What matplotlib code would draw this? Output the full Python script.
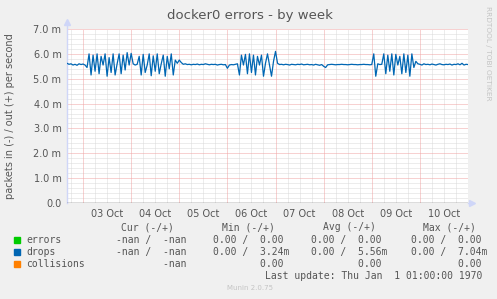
import matplotlib
matplotlib.use("Agg")
import matplotlib.pyplot as plt
from matplotlib.patches import Rectangle
import numpy as np

# drops (+ side), in milli-packets per second, one sample per hour from 02 Oct 16:00
drops_out = [
    5.62, 5.58, 5.60, 5.55, 5.58, 5.54, 5.60, 5.57, 5.59, 5.55,
    5.45, 6.00, 5.15, 5.95, 5.30, 6.00, 5.20, 5.90, 5.55, 6.00,
    5.10, 5.85, 5.25, 6.00, 5.15, 5.60, 6.00, 5.20, 5.95, 5.35,
    6.05, 5.55, 6.02, 5.60, 5.55, 5.58, 5.90, 5.15, 5.98, 5.25,
    5.55, 6.00, 5.12, 5.92, 5.30, 6.00, 5.20, 5.60, 5.95, 5.10,
    5.90, 5.40, 6.00, 5.15, 5.75,
    5.62, 5.75, 5.65, 5.58, 5.60, 5.57, 5.58, 5.56, 5.58, 5.57,
    5.59, 5.56, 5.58, 5.57, 5.60, 5.58, 5.56, 5.58, 5.57, 5.58,
    5.55, 5.57, 5.58, 5.56, 5.57, 5.42, 5.55, 5.57, 5.56, 5.58,
    5.60, 5.15, 5.95, 5.55, 5.98, 5.20, 6.00, 5.25, 5.95, 5.15,
    5.90, 5.55, 5.95, 5.10, 5.62, 6.00, 5.55, 5.10, 5.70, 6.10,
    5.62, 5.57, 5.58, 5.56, 5.58, 5.57, 5.55, 5.58, 5.57, 5.56,
    5.58, 5.57, 5.59, 5.56, 5.57, 5.58, 5.56, 5.57, 5.55, 5.58,
    5.56, 5.54, 5.57, 5.50, 5.45, 5.56, 5.57, 5.58, 5.57, 5.56,
    5.57, 5.57, 5.58, 5.57, 5.57, 5.56, 5.57, 5.58, 5.57, 5.57,
    5.56, 5.57, 5.57, 5.58, 5.57, 5.57, 5.56, 5.57,
    6.00, 5.10, 5.60, 5.57, 5.58, 6.00, 5.20, 5.95, 5.30, 6.00,
    5.15, 5.98, 5.55, 5.90, 5.20, 6.00, 5.25, 5.95, 5.10, 6.00,
    5.45, 5.70, 5.60,
    5.58, 5.55, 5.60, 5.57, 5.58, 5.56, 5.59, 5.57, 5.55, 5.58,
    5.60, 5.57, 5.56, 5.58, 5.57, 5.59, 5.55, 5.58, 5.57, 5.60,
    5.56, 5.62, 5.55, 5.58, 5.57,
]
hours = np.arange(len(drops_out))

day_labels = ["03 Oct", "04 Oct", "05 Oct", "06 Oct", "07 Oct", "08 Oct", "09 Oct", "10 Oct"]
y_ticks = [0, 1, 2, 3, 4, 5, 6, 7]
y_labels = ["0.0", "1.0 m", "2.0 m", "3.0 m", "4.0 m", "5.0 m", "6.0 m", "7.0 m"]

legend_names = ["errors", "drops", "collisions"]
legend_colors = ["#00CC00", "#0066B3", "#FF8000"]
cur_vals = ["-nan /  -nan", "-nan /  -nan", "        -nan"]
min_vals = ["0.00 /  0.00", "0.00 /  3.24m", "        0.00"]
avg_vals = ["0.00 /  0.00", "0.00 /  5.56m", "        0.00"]
max_vals = ["0.00 /  0.00", "0.00 /  7.04m", "        0.00"]
headers = ["Cur (-/+)", "Min (-/+)", "Avg (-/+)", "Max (-/+)"]

W, H = 497, 299
BG = "#F0F0F0"
TXT = "#555555"


def fx(px):
    return px / W


def fy(py):
    return 1 - py / H


fig = plt.figure(figsize=(W / 100, H / 100), dpi=100, facecolor=BG)
ax = fig.add_axes([fx(67), fy(203), fx(468) - fx(67), fy(29) - fy(203)])
ax.set_facecolor("white")

t_end = hours[-1]
midnights = np.arange(8, t_end + 1, 24)
noons = midnights[:-1] + 12
minor_x = [h for h in range(2, t_end + 1, 6) if h not in set(midnights)]
minor_y = [v / 5 for v in range(0, 36) if v % 5]

dot = (0, (1, 1))
ax.vlines(minor_x, 0, 7, colors="#DADADA", lw=0.72, linestyles=dot, zorder=1)
ax.hlines(minor_y, 0, t_end, colors="#DADADA", lw=0.72, linestyles=dot, zorder=1)
ax.vlines(midnights, 0, 7, colors="#F0A4A4", lw=0.72, linestyles=dot, zorder=2)
ax.hlines(y_ticks[1:], 0, t_end, colors="#F0A4A4", lw=0.72, linestyles=dot, zorder=2)

ax.plot(hours, drops_out, color="#0066B3", lw=0.9, zorder=4)
ax.axhline(0, color="#505050", lw=1.0, zorder=5)

ax.set_xlim(0, t_end)
ax.set_ylim(0, 7)
ax.set_xticks(noons, day_labels)
ax.set_yticks(y_ticks, y_labels)
ax.tick_params(length=0, labelsize=7, colors=TXT, pad=4)
for s in ("top", "right", "bottom", "left"):
    ax.spines[s].set_visible(False)

# axis lines with arrows
axc = "#CFD6F8"
ax.plot([0, 0], [0, 1.04], transform=ax.transAxes, color=axc, lw=1, clip_on=False, zorder=3)
ax.plot([0], [1.04], transform=ax.transAxes, marker="^", ms=4, color=axc, clip_on=False)
ax.plot([1.0, 1.01], [0, 0], transform=ax.transAxes, color=axc, lw=1, clip_on=False)
ax.plot([1.01], [0], transform=ax.transAxes, marker=">", ms=4, color=axc, clip_on=False)

fig.text(fx(250), fy(15), "docker0 errors - by week", ha="center", va="center",
         fontsize=9.5, color=TXT)
fig.text(fx(10), fy(116), "packets in (-) / out (+) per second", rotation=90,
         ha="center", va="center", fontsize=7, color=TXT)
fig.text(fx(488), fy(53), "RRDTOOL / TOBI OETIKER", rotation=270,
         ha="center", va="center", fontsize=5.3, color="#C4C4C4")

# legend block (munin style, monospace)
mono = dict(family="DejaVu Sans Mono", fontsize=7, color=TXT, va="center")
head_x = [121, 222, 323, 423]
val_x = [116, 213, 311, 411]
for hx, txt in zip(head_x, headers):
    fig.text(fx(hx), fy(227), txt, **mono)

for i, name in enumerate(legend_names):
    ry = 240 + 12 * i
    fig.patches.append(Rectangle((fx(14), fy(ry + 3)), fx(6), 6 / H,
                                 transform=fig.transFigure, color=legend_colors[i]))
    fig.text(fx(26), fy(ry), name, **mono)
    for vx, vals in zip(val_x, [cur_vals, min_vals, avg_vals, max_vals]):
        fig.text(fx(vx), fy(ry), vals[i], **mono)

fig.text(fx(482), fy(276), "Last update: Thu Jan  1 01:00:00 1970", ha="right", **mono)
fig.text(fx(250), fy(288), "Munin 2.0.75", ha="center", va="center",
         fontsize=5, color="#C4C4C4")

fig.savefig("out.png", dpi=100, facecolor=BG)
